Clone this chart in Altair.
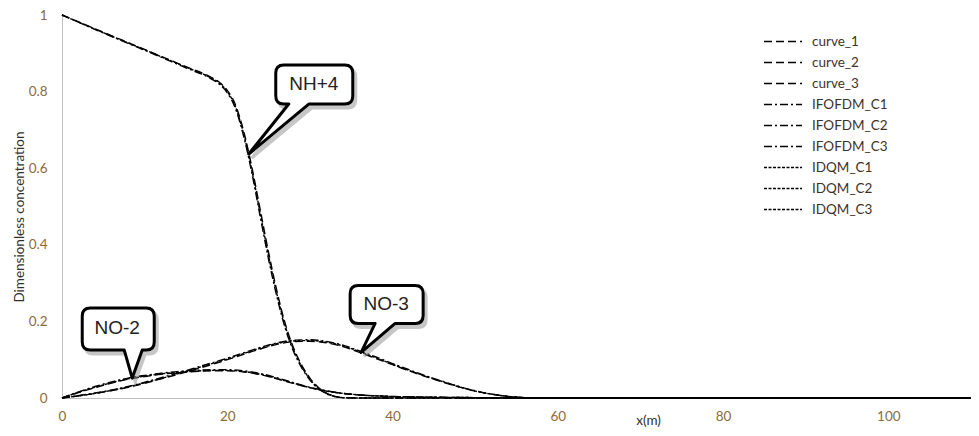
import altair as alt
import pandas as pd

# ---------------- data ----------------
series_names = ["curve_1", "curve_2", "curve_3",
                "IFOFDM_C1", "IFOFDM_C2", "IFOFDM_C3",
                "IDQM_C1", "IDQM_C2", "IDQM_C3"]

x_nh4 = [0, 5, 10, 15, 18, 19, 20, 21, 22, 23, 24, 25, 26, 27, 28, 29, 30, 31, 32, 33, 34, 36, 40, 50, 60, 80, 100, 110]
curve_1 = [1.000, 0.955, 0.910, 0.865, 0.838, 0.825, 0.803, 0.765, 0.695, 0.600, 0.490, 0.380, 0.280, 0.195,
           0.132, 0.086, 0.052, 0.028, 0.013, 0.005, 0.001, 0, 0, 0, 0, 0, 0, 0]
ifofdm_c1 = [1.000, 0.953, 0.908, 0.862, 0.834, 0.820, 0.797, 0.755, 0.682, 0.585, 0.472, 0.362, 0.265, 0.183,
             0.123, 0.079, 0.047, 0.025, 0.011, 0.004, 0.001, 0, 0, 0, 0, 0, 0, 0]
idqm_c1 = [1.000, 0.954, 0.909, 0.864, 0.836, 0.823, 0.800, 0.760, 0.688, 0.592, 0.481, 0.371, 0.272, 0.189,
           0.127, 0.082, 0.049, 0.026, 0.012, 0.004, 0.001, 0, 0, 0, 0, 0, 0, 0]

x_no2 = [0, 2, 4, 6, 8, 10, 12, 14, 16, 18, 20, 22, 24, 26, 28, 30, 32, 34, 36, 40, 45, 50, 55, 60, 80, 100, 110]
curve_2 = [0, 0.014, 0.027, 0.039, 0.049, 0.056, 0.062, 0.066, 0.069, 0.071, 0.071, 0.068, 0.061, 0.050,
           0.038, 0.027, 0.018, 0.012, 0.008, 0.004, 0.002, 0.001, 0, 0, 0, 0, 0]
ifofdm_c2 = [0, 0.016, 0.030, 0.042, 0.052, 0.059, 0.065, 0.069, 0.072, 0.074, 0.074, 0.071, 0.064, 0.053,
             0.040, 0.028, 0.019, 0.012, 0.008, 0.004, 0.002, 0.001, 0, 0, 0, 0, 0]
idqm_c2 = [0, 0.015, 0.028, 0.040, 0.050, 0.057, 0.063, 0.067, 0.070, 0.072, 0.072, 0.069, 0.062, 0.051,
           0.039, 0.027, 0.018, 0.012, 0.008, 0.004, 0.002, 0.001, 0, 0, 0, 0, 0]

x_no3 = [0, 4, 8, 12, 16, 20, 24, 26, 28, 30, 32, 34, 36, 38, 40, 42, 44, 46, 48, 50, 52, 54, 56, 58, 60, 80, 100, 110]
curve_3 = [0, 0.012, 0.028, 0.050, 0.074, 0.100, 0.128, 0.140, 0.147, 0.148, 0.144, 0.134, 0.119, 0.103,
           0.087, 0.071, 0.056, 0.042, 0.029, 0.018, 0.010, 0.004, 0.001, 0, 0, 0, 0, 0]
ifofdm_c3 = [0, 0.013, 0.030, 0.053, 0.078, 0.104, 0.132, 0.144, 0.151, 0.152, 0.148, 0.138, 0.123, 0.107,
             0.090, 0.074, 0.058, 0.044, 0.030, 0.019, 0.010, 0.004, 0.001, 0, 0, 0, 0, 0]
idqm_c3 = [0, 0.012, 0.029, 0.051, 0.076, 0.102, 0.130, 0.142, 0.149, 0.150, 0.146, 0.136, 0.121, 0.105,
           0.088, 0.072, 0.057, 0.043, 0.030, 0.018, 0.010, 0.004, 0.001, 0, 0, 0, 0, 0]

x_ticks = [0, 20, 40, 60, 80, 100]
y_ticks = [0, 0.2, 0.4, 0.6, 0.8, 1]

# callout labels and the curve point each one points to
callout_labels = ["NH+4", "NO-3", "NO-2"]
callout_x = [22.6, 36.2, 8.5]
callout_y = [0.637, 0.119, 0.052]

# ---------------- styling ----------------
dash_styles = [[8, 4], [8, 4], [8, 4],
               [8, 3, 2, 3], [8, 3, 2, 3], [8, 3, 2, 3],
               [3, 1.5], [3, 1.5], [3, 1.5]]

# callout box geometry in pixels relative to the pointer tip: L, T, R, B, wedge x1, wedge x2
callout_geom = [(27, -89, 104, -50, 40, 60),
                (-11, -67, 62, -29, 14, 34),
                (-50, -70, 22, -28, -8, 10)]
label_offsets = [(65, -70), (25, -48), (-15, -50)]


def callout_path(L, T, R, B, w1, w2, r=8):
    return (f"M{L + r},{T} L{R - r},{T} Q{R},{T} {R},{T + r} L{R},{B - r} Q{R},{B} {R - r},{B} "
            f"L{w2},{B} L0,0 L{w1},{B} L{L + r},{B} Q{L},{B} {L},{B - r} L{L},{T + r} Q{L},{T} {L + r},{T} Z")


all_x = [x_nh4, x_no2, x_no3, x_nh4, x_no2, x_no3, x_nh4, x_no2, x_no3]
all_y = [curve_1, curve_2, curve_3, ifofdm_c1, ifofdm_c2, ifofdm_c3, idqm_c1, idqm_c2, idqm_c3]
rows = []
for name, xs, ys in zip(series_names, all_x, all_y):
    for a, b in zip(xs, ys):
        rows.append({"x": a, "y": b, "series": name})
df = pd.DataFrame(rows)

ann = pd.DataFrame({
    "label": callout_labels,
    "x": callout_x,
    "y": callout_y,
    "path": [callout_path(*g) for g in callout_geom],
})

TICK_COLOR = "#8c6a3c"
FONT = "Lato"
PLOT_W = 909
PLOT_H = 383

x_enc = alt.X("x:Q", scale=alt.Scale(domain=[0, 110], nice=False, zero=False),
              axis=alt.Axis(values=x_ticks, title="x(m)", titleX=586, titleY=22,
                            titleBaseline="middle", titleAlign="center",
                            titleFont=FONT, titleFontSize=13.5, titleFontWeight="normal",
                            titleColor="#303030",
                            labelFont=FONT, labelFontSize=13.5, labelColor=TICK_COLOR,
                            labelPadding=11, ticks=False, grid=False,
                            domainColor="#c0c0c0", labelFlush=False))
y_enc = alt.Y("y:Q", scale=alt.Scale(domain=[0, 1], nice=False),
              axis=alt.Axis(values=y_ticks, format="~g", title="Dimensionless concentration",
                            titleX=-43, titleY=PLOT_H / 2 + 10, titleAlign="center",
                            titleBaseline="middle", titleAngle=-90,
                            titleFont=FONT, titleFontSize=13.5, titleFontWeight="normal",
                            titleColor="#303030",
                            labelFont=FONT, labelFontSize=13.5, labelColor=TICK_COLOR,
                            labelPadding=15, ticks=False, grid=False,
                            domainColor="#c0c0c0", labelFlush=False))

lines = alt.Chart(df).mark_line(strokeWidth=1.4, color="black", interpolate="monotone").encode(
    x=x_enc,
    y=y_enc,
    strokeDash=alt.StrokeDash(
        "series:N",
        scale=alt.Scale(domain=series_names, range=dash_styles),
        legend=alt.Legend(title=None, orient="none", legendX=701, legendY=16,
                          symbolType="stroke", symbolSize=1444, symbolStrokeWidth=1.5,
                          symbolStrokeColor="black", clipHeight=21, rowPadding=0,
                          labelFont=FONT, labelFontSize=13.5, labelColor="#3e3228",
                          labelOffset=9, padding=0),
    ),
)

shadow = alt.Chart(ann).mark_point(size=4, fill="#8f8f8f", stroke="#8f8f8f", strokeWidth=3,
                                   opacity=0.5, fillOpacity=1, strokeOpacity=1,
                                   xOffset=3, yOffset=4).encode(
    x="x:Q", y="y:Q", shape=alt.Shape("path:N", scale=None, legend=None))

boxes = alt.Chart(ann).mark_point(size=4, fill="white", stroke="black", strokeWidth=3,
                                  opacity=1, fillOpacity=1, strokeOpacity=1,
                                  strokeJoin="round").encode(
    x="x:Q", y="y:Q", shape=alt.Shape("path:N", scale=None, legend=None))

texts = []
for i, lab in enumerate(callout_labels):
    dx, dy = label_offsets[i]
    texts.append(
        alt.Chart(ann.iloc[[i]]).mark_text(font="Liberation Sans", fontSize=19, color="#222222",
                                           dx=dx, dy=dy, align="center", baseline="middle").encode(
            x="x:Q", y="y:Q", text="label:N")
    )

chart = alt.layer(lines, shadow, boxes, *texts).properties(
    width=PLOT_W, height=PLOT_H,
    autosize=alt.AutoSizeParams(type="none"),
    padding={"left": 54, "top": 7, "right": 0, "bottom": 30},
).configure_view(stroke=None)

chart.save("out.html", embed_options={"renderer": "svg", "actions": False})
